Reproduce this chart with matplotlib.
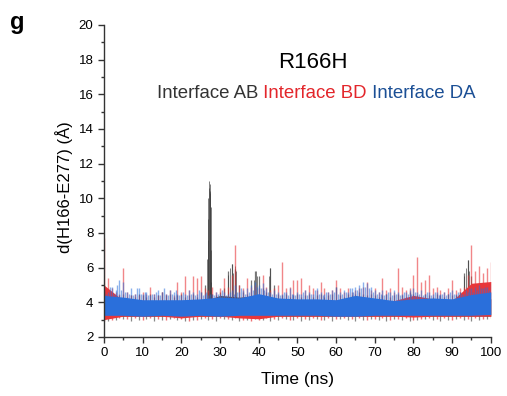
import numpy as np
import matplotlib.pyplot as plt
from matplotlib.ticker import MultipleLocator

plt.rcParams['font.family'] = ['Liberation Sans', 'DejaVu Sans']

# dense band of each trace, read every 5 ns
t_band = np.arange(0, 101, 5)
ab_band_top = [4.1, 4.0, 4.0, 4.0, 4.0, 4.0, 4.4, 4.3, 4.4, 4.0, 4.0, 4.0, 4.0, 4.0, 4.0, 4.0, 4.0, 4.0, 4.1, 4.6, 4.2]
ab_band_bot = [3.2, 3.2, 3.2, 3.2, 3.2, 3.2, 3.2, 3.2, 3.2, 3.2, 3.2, 3.2, 3.2, 3.2, 3.2, 3.2, 3.2, 3.2, 3.2, 3.2, 3.2]
bd_band_top = [5.0, 4.1, 4.0, 4.0, 4.0, 4.1, 4.2, 4.2, 4.4, 4.2, 4.1, 4.1, 4.0, 4.2, 4.1, 4.1, 4.4, 4.2, 4.1, 5.1, 5.2]
bd_band_bot = [3.0, 3.2, 3.2, 3.2, 3.1, 3.2, 3.2, 3.1, 3.05, 3.2, 3.2, 3.2, 3.2, 3.2, 3.2, 3.2, 3.15, 3.2, 3.2, 3.2, 3.2]
da_band_top = [4.4, 4.3, 4.15, 4.15, 4.15, 4.2, 4.3, 4.25, 4.5, 4.25, 4.2, 4.2, 4.15, 4.4, 4.25, 4.1, 4.2, 4.25, 4.2, 4.45, 4.6]
da_band_bot = [3.25, 3.25, 3.2, 3.25, 3.2, 3.25, 3.2, 3.25, 3.25, 3.25, 3.25, 3.25, 3.2, 3.2, 3.25, 3.25, 3.25, 3.25, 3.25, 3.25, 3.3]

# highest excursion in every ns (AB, BD)
t_ns = np.arange(0, 101, 1)
ab_peak = [4.4, 4.3, 4.5, 4.3, 4.4, 4.5, 4.3, 4.4, 4.3, 4.5, 4.4,
           4.3, 4.5, 4.3, 4.4, 4.6, 4.4, 4.5, 4.3, 4.4, 4.5,
           4.3, 4.4, 4.5, 4.3, 4.6, 5.0, 4.6, 4.5, 4.4, 4.6,
           4.8, 5.8, 6.2, 5.9, 5.0, 4.6, 4.5, 5.3, 5.8, 5.5,
           4.8, 4.6, 6.0, 5.0, 4.5, 4.4, 4.5, 4.3, 4.4, 4.5,
           4.3, 4.4, 4.5, 4.3, 4.4, 4.5, 4.3, 4.4, 4.5, 4.9,
           4.4, 4.3, 4.5, 4.4, 4.5, 4.6, 4.5, 4.4, 4.5, 4.4,
           4.3, 4.4, 4.5, 4.3, 4.4, 4.5, 4.4, 4.3, 4.6, 4.5,
           4.4, 4.3, 4.5, 4.4, 4.3, 4.5, 4.4, 4.3, 4.5, 4.4,
           4.4, 4.6, 5.7, 6.45, 5.5, 4.8, 4.6, 4.5, 4.6, 4.5]
bd_peak = [7.7, 5.4, 4.8, 4.6, 4.5, 6.0, 4.6, 4.4, 4.5, 4.4, 4.6,
           4.5, 4.9, 4.5, 4.4, 4.6, 4.5, 4.7, 4.4, 5.2, 4.6,
           5.5, 4.7, 5.5, 5.4, 5.5, 4.8, 4.7, 4.9, 4.6, 4.8,
           5.4, 4.9, 5.6, 7.3, 5.0, 4.8, 5.4, 4.9, 5.0, 4.8,
           5.6, 4.9, 4.7, 4.8, 5.0, 6.3, 4.8, 4.9, 5.3, 5.3,
           5.4, 4.7, 5.0, 4.8, 4.7, 5.2, 4.8, 4.6, 4.7, 5.3,
           4.8, 4.6, 4.8, 4.6, 4.7, 4.8, 4.9, 5.2, 4.7, 4.8,
           4.6, 5.4, 4.7, 4.8, 4.6, 6.0, 4.9, 4.7, 4.8, 5.6,
           6.6, 5.2, 5.3, 5.6, 4.8, 4.9, 4.7, 4.6, 4.8, 5.3,
           4.7, 4.8, 4.9, 5.6, 7.3, 5.8, 6.1, 5.7, 6.0, 6.3]

# lowest excursions: BD on even ns, AB on odd ns
t_even = np.arange(0, 101, 2)
bd_low = [2.9, 3.0, 3.1, 3.05, 3.1, 3.0, 3.1, 3.05, 3.0, 3.1, 3.05, 2.95, 3.0,
          3.1, 3.05, 3.1, 3.05, 3.1, 3.0, 2.95, 3.0, 3.1, 3.05, 3.1, 3.0, 3.1,
          3.05, 3.1, 3.0, 3.1, 3.05, 3.1, 3.05, 3.1, 3.0, 3.05, 3.1, 3.0, 3.05,
          3.1, 3.0, 3.05, 3.1, 3.05, 3.1, 3.0, 3.1, 3.05, 3.1, 3.05, 3.1]
t_odd = np.arange(1, 100, 2)
ab_low = [2.95, 3.0, 3.05, 2.95, 3.0, 3.05, 2.95, 3.0, 3.05, 3.0, 2.95, 3.0,
          3.05, 3.0, 2.95, 3.05, 3.0, 2.95, 3.0, 3.05, 3.0, 2.95, 3.0, 3.05,
          3.0, 2.9, 3.0, 3.05, 3.0, 2.95, 3.05, 3.0, 2.95, 3.0, 3.05, 3.0,
          2.95, 3.05, 3.0, 2.9, 3.0, 3.05, 3.0, 2.95, 3.0, 3.05, 3.0, 2.95,
          3.0, 3.05]

# DA excursions every 0.5 ns
t_half = np.arange(0, 100.5, 0.5)
da_peak = [4.8, 4.5, 4.6, 4.9, 4.9, 4.5, 4.7, 5.0, 5.3, 4.7,
           5.2, 4.6, 4.6, 4.5, 4.8, 4.4, 4.5, 4.8, 4.8, 4.5,
           4.5, 4.6, 4.6, 4.4, 4.4, 4.5, 4.5, 4.6, 4.7, 4.4,
           4.6, 4.8, 4.5, 4.4, 4.7, 4.5, 4.6, 4.7, 4.5, 4.4,
           4.4, 4.6, 4.5, 4.4, 4.7, 4.5, 4.6, 4.4, 4.5, 4.7,
           4.6, 4.4, 4.5, 4.6, 4.4, 4.5, 4.5, 4.4, 4.6, 4.5,
           4.5, 4.7, 4.6, 4.4, 4.5, 4.6, 4.7, 4.5, 5.0, 4.6,
           4.6, 4.8, 4.7, 4.5, 4.8, 4.6, 5.0, 4.7, 5.2, 4.9,
           5.0, 4.8, 5.1, 4.7, 4.8, 4.6, 4.6, 4.5, 4.7, 4.5,
           4.6, 4.4, 4.5, 4.6, 4.6, 4.4, 4.8, 4.5, 4.5, 4.4,
           4.6, 4.5, 4.5, 4.6, 4.7, 4.4, 4.6, 4.5, 4.5, 4.7,
           4.8, 4.5, 4.6, 4.4, 4.5, 4.6, 4.6, 4.5, 4.7, 4.6,
           4.9, 4.5, 4.6, 4.5, 4.7, 4.6, 4.6, 4.8, 4.8, 4.6,
           4.9, 4.7, 5.0, 4.8, 5.2, 4.9, 5.1, 4.8, 4.9, 4.6,
           4.7, 4.5, 4.6, 4.5, 4.7, 4.4, 4.5, 4.6, 4.6, 4.4,
           4.7, 4.5, 4.6, 4.4, 4.5, 4.6, 4.6, 4.5, 4.7, 4.5,
           4.8, 4.6, 4.6, 4.5, 4.7, 4.4, 4.5, 4.6, 4.6, 4.4,
           4.5, 4.6, 4.6, 4.4, 4.5, 4.5, 4.6, 4.4, 4.5, 4.6,
           4.7, 4.5, 4.5, 4.6, 4.6, 4.5, 4.5, 4.7, 4.6, 4.8,
           4.8, 4.6, 4.9, 4.7, 5.0, 4.8, 4.8, 4.9, 4.9, 4.7,
           5.0]

# AB excursions: the big one around 27 ns, clusters at 32-34, 39, 43, 93-94 ns
ab_spike_t = [26.7, 26.8, 26.9, 27.0, 27.1, 27.2, 27.3, 27.4, 27.5, 27.6, 27.7, 27.8,
              32.2, 32.6, 33.0, 33.4, 33.8, 34.2, 38.8, 39.2, 39.6, 42.6, 42.9,
              93.2, 93.6, 94.0, 94.4]
ab_spike_v = [6.5, 7.6, 8.8, 10.0, 10.6, 11.0, 10.8, 10.3, 10.4, 9.5, 7.0, 5.2,
              5.6, 6.0, 6.2, 5.7, 6.1, 5.8, 5.3, 5.8, 5.5, 5.5, 6.0,
              5.5, 6.0, 6.45, 5.8]

c_ab = '#3b3b3b'
c_bd = '#e8363a'
c_da = '#2a6fdb'

fig = plt.figure(figsize=(5.07, 3.96), dpi=100)
ax = fig.add_axes([0.205, 0.149, 0.763, 0.788])

# AB
ax.vlines(t_ns, 3.4, ab_peak, color=c_ab, lw=0.9, alpha=0.7, zorder=2.0)
ax.vlines(t_odd, ab_low, 3.5, color=c_ab, lw=0.9, alpha=0.6, zorder=2.0)
ax.vlines(ab_spike_t, 3.8, ab_spike_v, color=c_ab, lw=0.7, alpha=0.65, zorder=2.0)
ax.fill_between(t_band, ab_band_bot, ab_band_top, color=c_ab, alpha=0.85, lw=0, zorder=2.1)
# BD
ax.vlines(t_ns, 3.4, bd_peak, color=c_bd, lw=1.0, alpha=0.6, zorder=2.2)
ax.vlines(t_even, bd_low, 3.5, color=c_bd, lw=1.0, alpha=0.7, zorder=2.2)
ax.fill_between(t_band, bd_band_bot, bd_band_top, color=c_bd, lw=0, zorder=2.3)
# DA
ax.vlines(t_half, 3.4, da_peak, color=c_da, lw=1.0, alpha=0.55, zorder=2.4)
ax.fill_between(t_band, da_band_bot, da_band_top, color=c_da, lw=0, zorder=2.5)

ax.set_xlim(0, 100)
ax.set_ylim(2, 20)
ax.xaxis.set_major_locator(MultipleLocator(10))
ax.xaxis.set_minor_locator(MultipleLocator(5))
ax.yaxis.set_major_locator(MultipleLocator(2))
ax.yaxis.set_minor_locator(MultipleLocator(1))
ax.spines['top'].set_visible(False)
ax.spines['right'].set_visible(False)
for s in ['left', 'bottom']:
    ax.spines[s].set_color('#333333')
    ax.spines[s].set_linewidth(1.0)
ax.tick_params(which='major', direction='out', length=4, width=1, colors='#333333', labelsize=9.5, labelcolor='black')
ax.tick_params(which='minor', direction='out', length=2.5, width=1, colors='#333333')
ax.set_xlabel('Time (ns)', fontsize=12.5, labelpad=9)
ax.set_ylabel('d(H166-E277) (Å)', fontsize=12)
ax.yaxis.set_label_coords(-0.08, 0.48)

ax.text(0.54, 0.88, 'R166H', transform=ax.transAxes, ha='center', va='center', fontsize=16)
t1 = fig.text(157 / 507, 1 - 94 / 396, 'Interface AB', color='#333333', fontsize=13.4, va='center')
t2 = ax.annotate(' Interface BD', xy=(1, 0), xycoords=t1, va='bottom', color='#e3262b', fontsize=13.4)
ax.annotate(' Interface DA', xy=(1, 0), xycoords=t2, va='bottom', color='#1b4f95', fontsize=13.4)
fig.text(10 / 507, 1 - 22 / 396, 'g', fontsize=17, fontweight='bold', va='center')

fig.savefig('out.png', dpi=100)
